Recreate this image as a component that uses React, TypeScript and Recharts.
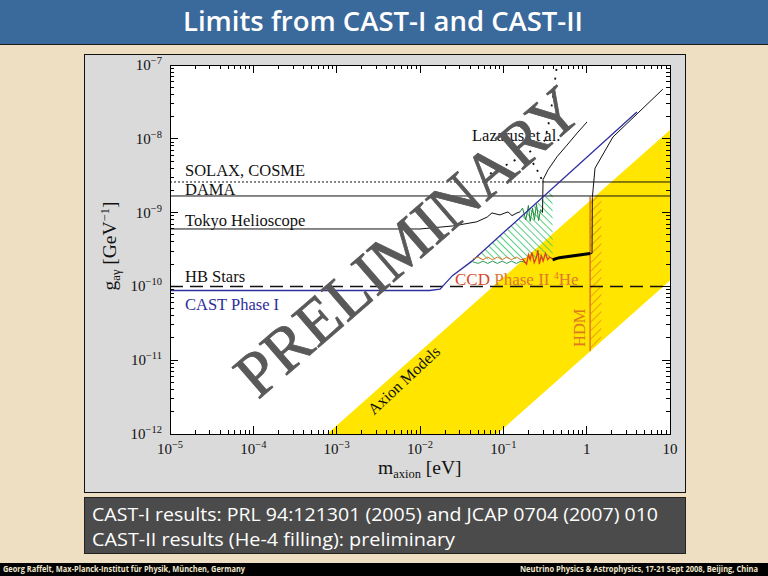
import React from "react";
import { ComposedChart, Line, Area, XAxis, YAxis } from "recharts";

const SERIF = "'Liberation Serif', 'Times New Roman', serif";
const SANS = "'Open Sans', 'DejaVu Sans', sans-serif";

// axes: decades and their labels
const xDecades = [1e-5, 1e-4, 1e-3, 1e-2, 1e-1, 1, 10];
const xDecadeLabels = [["10", "−5"], ["10", "−4"], ["10", "−3"], ["10", "−2"], ["10", "−1"], ["1", ""], ["10", ""]];
const yDecades = [1e-12, 1e-11, 1e-10, 1e-9, 1e-8, 1e-7];
const yDecadeLabels = [["10", "−12"], ["10", "−11"], ["10", "−10"], ["10", "−9"], ["10", "−8"], ["10", "−7"]];
const minorSteps = [2, 3, 4, 5, 6, 7, 8, 9];

// axion models band (m in eV, g in GeV^-1)
const bandMass = [0.00077, 0.084, 10];
const bandLow = [1e-12, 1e-12, 1.2e-10];
const bandHigh = [1e-12, 1.11e-10, 1.32e-8];

// horizontal limits
const fullMass = [1e-5, 10];
const solaxDottedMass = [1e-5, 0.3];
const solaxSolidMass = [0.3, 10];
const solaxG = [2.6e-9, 2.6e-9];
const damaG = [1.68e-9, 1.68e-9];
const hbG = [1e-10, 1e-10];

// CAST phase I
const castIMass = [1e-5, 0.013, 0.0174, 0.0245, 0.042, 4.0];
const castIG = [8.8e-11, 8.8e-11, 9.2e-11, 1.4e-10, 2.2e-10, 2.3e-8];

// Tokyo helioscope
const tokyoMass = [1e-5, 0.01, 0.025, 0.048, 0.064, 0.073, 0.091, 0.105, 0.114, 0.127, 0.146, 0.158];
const tokyoG = [6e-10, 6e-10, 6.6e-10, 7.5e-10, 8.7e-10, 9.9e-10, 9.3e-10, 9.9e-10, 1.02e-9, 9.1e-10, 9.9e-10, 1.02e-9];
const tokyoHeMass = [0.158, 0.17, 0.186, 0.2, 0.21, 0.224, 0.236, 0.25, 0.265, 0.28, 0.295];
const tokyoHeG = [1.02e-9, 1.15e-9, 8.0e-10, 1.25e-9, 7.6e-10, 1.15e-9, 8.0e-10, 1.3e-9, 7.8e-10, 1.1e-9, 1.0e-9];
const tokyoUpMass = [0.295, 0.3, 0.344, 0.44, 0.58, 0.77, 1.01];
const tokyoUpG = [1.0e-9, 2.8e-9, 3.8e-9, 5.7e-9, 8.2e-9, 1.2e-8, 1.69e-8];

// Lazarus et al.
const lazarusMass = [0.0555, 0.12, 0.227, 0.316, 0.363, 0.394, 0.44];
const lazarusG = [2.94e-9, 4.7e-9, 7.05e-9, 9.6e-9, 1.97e-8, 3.68e-8, 1e-7];
const lazarusLowMass = [0.227, 0.26, 0.3];
const lazarusLowG = [4.7e-9, 3.6e-9, 2.6e-9];

// CAST phase II (He-4)
const castIIMass = [0.39, 0.47, 1.1];
const castIIG = [2.3e-10, 2.45e-10, 2.8e-10];
const castIIEdgeMass = [1.1, 1.16, 1.17, 1.26, 2.07, 8.2];
const castIIEdgeG = [2.8e-10, 2.8e-10, 1.6e-9, 4.0e-9, 1.06e-8, 4.7e-8];
const hatchMass = [0.043, 0.39];
const hatchLow = [2.3e-10, 2.4e-10];
const hatchHigh = [2.3e-10, 2.0e-9];
const ccdMass = [0.043, 0.05, 0.057, 0.065, 0.074, 0.085, 0.097, 0.11, 0.125, 0.143, 0.163, 0.186];
const ccdG = [2.35e-10, 2.5e-10, 2.3e-10, 2.5e-10, 2.3e-10, 2.5e-10, 2.3e-10, 2.5e-10, 2.3e-10, 2.5e-10, 2.3e-10, 2.4e-10];
const ccdGreenG = [2.15e-10, 2.05e-10, 2.2e-10, 2.05e-10, 2.2e-10, 2.05e-10, 2.2e-10, 2.05e-10, 2.2e-10, 2.05e-10, 2.2e-10, 2.1e-10];
const ccdRedMass = [0.17, 0.19, 0.2, 0.21, 0.22, 0.235, 0.25, 0.26, 0.27, 0.285, 0.3, 0.32, 0.34, 0.36, 0.39];
const ccdRedG = [2.35e-10, 2.0e-10, 2.7e-10, 2.3e-10, 2.9e-10, 2.1e-10, 2.5e-10, 3.1e-10, 2.0e-10, 2.6e-10, 2.2e-10, 2.8e-10, 2.3e-10, 2.5e-10, 2.35e-10];

// hot dark matter
const hdmMass = [1.1, 1.5];
const hdmLow = [1.32e-11, 1.8e-11];
const hdmHigh = [1.65e-9, 1.65e-9];
const hdmEdgeMass = [1.1, 1.1];
const hdmEdgeG = [1.32e-11, 1.65e-9];

const PLOT_W = 500;
const PLOT_H = 369;

const zip = (ms: number[], gs: number[]) => ms.map((m, i) => ({ m, g: gs[i] }));
const zipRange = (ms: number[], lo: number[], hi: number[]) => ms.map((m, i) => ({ m, r: [lo[i], hi[i]] }));
const withMinor = (decades: number[]) => {
  const t: number[] = [];
  decades.forEach((d, i) => {
    t.push(d);
    if (i < decades.length - 1) minorSteps.forEach((k) => t.push(d * k));
  });
  return t;
};
const decadeIndex = (decades: number[], v: number) => decades.findIndex((d) => Math.abs(v / d - 1) < 1e-6);

function renderXTick(p: any) {
  const v = p.payload.value;
  const i = decadeIndex(xDecades, v);
  const len = i >= 0 ? 8 : 4;
  const lab = i >= 0 ? xDecadeLabels[i] : null;
  return (
    <g key={`xt-${p.index}`}>
      <line x1={p.x} x2={p.x} y1={p.y} y2={p.y - len} stroke="#000" shapeRendering="crispEdges" />
      <line x1={p.x} x2={p.x} y1={p.y - PLOT_H} y2={p.y - PLOT_H + len} stroke="#000" shapeRendering="crispEdges" />
      {lab && (
        <text x={p.x} y={p.y + 20} textAnchor="middle" fontFamily={SERIF} fontSize={15} fill="#111">
          {lab[0]}
          {lab[1] && <tspan dy={-6} fontSize={10.5}>{lab[1]}</tspan>}
        </text>
      )}
    </g>
  );
}

function renderYTick(p: any) {
  const v = p.payload.value;
  const i = decadeIndex(yDecades, v);
  const len = i >= 0 ? 8 : 4;
  const lab = i >= 0 ? yDecadeLabels[i] : null;
  return (
    <g key={`yt-${p.index}`}>
      <line x1={p.x} x2={p.x + len} y1={p.y} y2={p.y} stroke="#000" shapeRendering="crispEdges" />
      <line x1={p.x + PLOT_W} x2={p.x + PLOT_W - len} y1={p.y} y2={p.y} stroke="#000" shapeRendering="crispEdges" />
      {lab && (
        <text x={p.x - 8} y={p.y + 5} textAnchor="end" fontFamily={SERIF} fontSize={15} fill="#111">
          {lab[0]}
          <tspan dy={-6} fontSize={10.5}>{lab[1]}</tspan>
        </text>
      )}
    </g>
  );
}

const line = (data: any[], stroke: string, width: number, dash?: string) => (
  <Line
    data={data}
    dataKey="g"
    type="linear"
    stroke={stroke}
    strokeWidth={width}
    strokeDasharray={dash}
    dot={false}
    activeDot={false}
    isAnimationActive={false}
  />
);

export default function App() {
  const abs = (l: number, t: number, w: number, h: number): React.CSSProperties => ({
    position: "absolute", left: l, top: t, width: w, height: h, boxSizing: "border-box",
  });
  return (
    <div style={{ position: "absolute", left: 0, top: 0, width: 768, height: 576, overflow: "hidden", background: "#eedfc2" }}>
      <svg width={0} height={0} style={{ position: "absolute" }}>
        <defs>
          <pattern id="greenHatch" patternUnits="userSpaceOnUse" width={5} height={5} patternTransform="rotate(-45)">
            <line x1={0} y1={0} x2={0} y2={5} stroke="#38c66a" strokeWidth={1.7} />
          </pattern>
          <pattern id="orangeHatch" patternUnits="userSpaceOnUse" width={6} height={6} patternTransform="rotate(45)">
            <line x1={0} y1={0} x2={0} y2={6} stroke="#e8801e" strokeWidth={1.4} />
          </pattern>
        </defs>
      </svg>

      {/* title bar */}
      <div style={{ ...abs(0, 0, 768, 45), background: "#3a699b", borderBottom: "1.5px solid #1c1c1c" }} />

      {/* chart panel */}
      <div style={{ ...abs(84, 54, 602, 439), background: "#dadada", border: "1.5px solid #111" }} />
      <div style={{ ...abs(170, 65, 500, 369), background: "#ffffff" }} />

      <div style={{ position: "absolute", left: 85, top: 55 }}>
        <ComposedChart width={599} height={436} margin={{ top: 10, right: 14, bottom: 27, left: 55 }}>
          <Area data={zipRange(bandMass, bandLow, bandHigh)} dataKey="r" type="linear" fill="#ffe500" fillOpacity={1} stroke="none" isAnimationActive={false} />
          <Area data={zipRange(hatchMass, hatchLow, hatchHigh)} dataKey="r" type="linear" fill="url(#greenHatch)" fillOpacity={1} stroke="none" isAnimationActive={false} />
          <Area data={zipRange(hdmMass, hdmLow, hdmHigh)} dataKey="r" type="linear" fill="url(#orangeHatch)" fillOpacity={1} stroke="none" isAnimationActive={false} />
          {line(zip(hdmEdgeMass, hdmEdgeG), "#e07a20", 1.5)}
          {line(zip(solaxDottedMass, solaxG), "#111", 1, "2 2")}
          {line(zip(solaxSolidMass, solaxG), "#111", 1)}
          {line(zip(fullMass, damaG), "#111", 1)}
          {line(zip(fullMass, hbG), "#111", 1.5, "13 7")}
          {line(zip(tokyoMass, tokyoG), "#111", 1)}
          {line(zip(tokyoHeMass, tokyoHeG), "#1f8a3a", 1)}
          {line(zip(tokyoUpMass, tokyoUpG), "#111", 1)}
          {line(zip(lazarusMass, lazarusG), "#111", 1.8, "2 7")}
          {line(zip(lazarusLowMass, lazarusLowG), "#111", 1.8, "2 6")}
          {line(zip(castIMass, castIG), "#2f2fa0", 1.3)}
          {line(zip(ccdMass, ccdGreenG), "#2a9a5a", 1)}
          {line(zip(ccdMass, ccdG), "#d8782e", 1)}
          {line(zip(ccdRedMass, ccdRedG), "#e0401a", 1.3)}
          {line(zip(castIIMass, castIIG), "#000", 3)}
          {line(zip(castIIEdgeMass, castIIEdgeG), "#111", 1)}
          <XAxis
            dataKey="m"
            type="number"
            scale="log"
            domain={[1e-5, 10]}
            allowDataOverflow
            ticks={withMinor(xDecades)}
            interval={0}
            height={30}
            tickSize={0}
            tickMargin={0}
            axisLine={false}
            tick={renderXTick}
          />
          <YAxis
            type="number"
            scale="log"
            domain={[1e-12, 1e-7]}
            allowDataOverflow
            ticks={withMinor(yDecades)}
            interval={0}
            width={30}
            tickSize={0}
            tickMargin={0}
            axisLine={false}
            tick={renderYTick}
          />
        </ComposedChart>
      </div>

      {/* plot frame */}
      <div style={{ ...abs(170, 65, 501, 370), border: "1px solid #000", pointerEvents: "none" }} />

      {/* text box and footer */}
      <div style={{ ...abs(84, 497, 602, 57), background: "#4b4b4b", border: "1px solid #222" }} />
      <div style={{ ...abs(0, 563, 768, 13), background: "#000" }} />

      <svg width={768} height={576} style={{ position: "absolute", left: 0, top: 0, pointerEvents: "none" }}>
        <text x={183} y={31} fontFamily={SANS} fontWeight={600} fontSize={27} fill="#fff" textLength={400} lengthAdjust="spacingAndGlyphs">
          Limits from CAST-I and CAST-II
        </text>

        <g fontFamily={SERIF} fontSize={16.5} fill="#111">
          <text x={185} y={176}>SOLAX, COSME</text>
          <text x={185} y={194.5}>DAMA</text>
          <text x={185} y={225.5}>Tokyo Helioscope</text>
          <text x={185} y={281.5}>HB Stars</text>
          <text x={185} y={310} fill="#2d2d9a">CAST Phase I</text>
          <text x={472} y={141}>Lazarus et al.</text>
          <text x={455} y={285} fontSize={17}>
            <tspan fill="#d9472b">CCD </tspan>
            <tspan fill="#e2772f">Phase II </tspan>
            <tspan fill="#e2772f" dy={-6} fontSize={10}>4</tspan>
            <tspan fill="#e2772f" dy={6}>He</tspan>
          </text>
          <text transform="translate(585,347) rotate(-90)" fill="#e07a20" fontSize={16.5}>HDM</text>
          <text transform="translate(404,380) rotate(-43)" textAnchor="middle" dy={5.5} fontSize={16}>Axion Models</text>
        </g>

        <text transform="translate(408,242) rotate(-41)" textAnchor="middle" dy={21} fontFamily={SERIF} fontSize={64} fill="#595959" stroke="#595959" strokeWidth={0.8}>
          PRELIMINARY
        </text>

        <text x={378} y={474} fontFamily={SERIF} fontSize={19.5} fill="#111">
          m<tspan dy={4} fontSize={12.5}>axion</tspan>
          <tspan dy={-4}> [eV]</tspan>
        </text>
        <text transform="translate(115.5,246) rotate(-90)" textAnchor="middle" fontFamily={SERIF} fontSize={19.5} fill="#111">
          g<tspan dy={4} fontSize={12.5}>aγ</tspan>
          <tspan dy={-4}> [GeV</tspan>
          <tspan dy={-7} fontSize={12.5}>−1</tspan>
          <tspan dy={7}>]</tspan>
        </text>

        <g fontFamily={SANS} fill="#fff" fontSize={19}>
          <text x={92} y={521} textLength={566} lengthAdjust="spacingAndGlyphs">
            CAST-I results: PRL 94:121301 (2005) and JCAP 0704 (2007) 010
          </text>
          <text x={92} y={546} textLength={363} lengthAdjust="spacingAndGlyphs">
            CAST-II results (He-4 filling): preliminary
          </text>
        </g>
        <g fontFamily={SANS} fill="#efe6cc" fontSize={8} fontWeight={700}>
          <text x={3} y={571.5} textLength={242} lengthAdjust="spacingAndGlyphs">
            Georg Raffelt, Max-Planck-Institut für Physik, München, Germany
          </text>
          <text x={520} y={571.5} textLength={238} lengthAdjust="spacingAndGlyphs">
            Neutrino Physics &amp; Astrophysics, 17-21 Sept 2008, Beijing, China
          </text>
        </g>
      </svg>
    </div>
  );
}
